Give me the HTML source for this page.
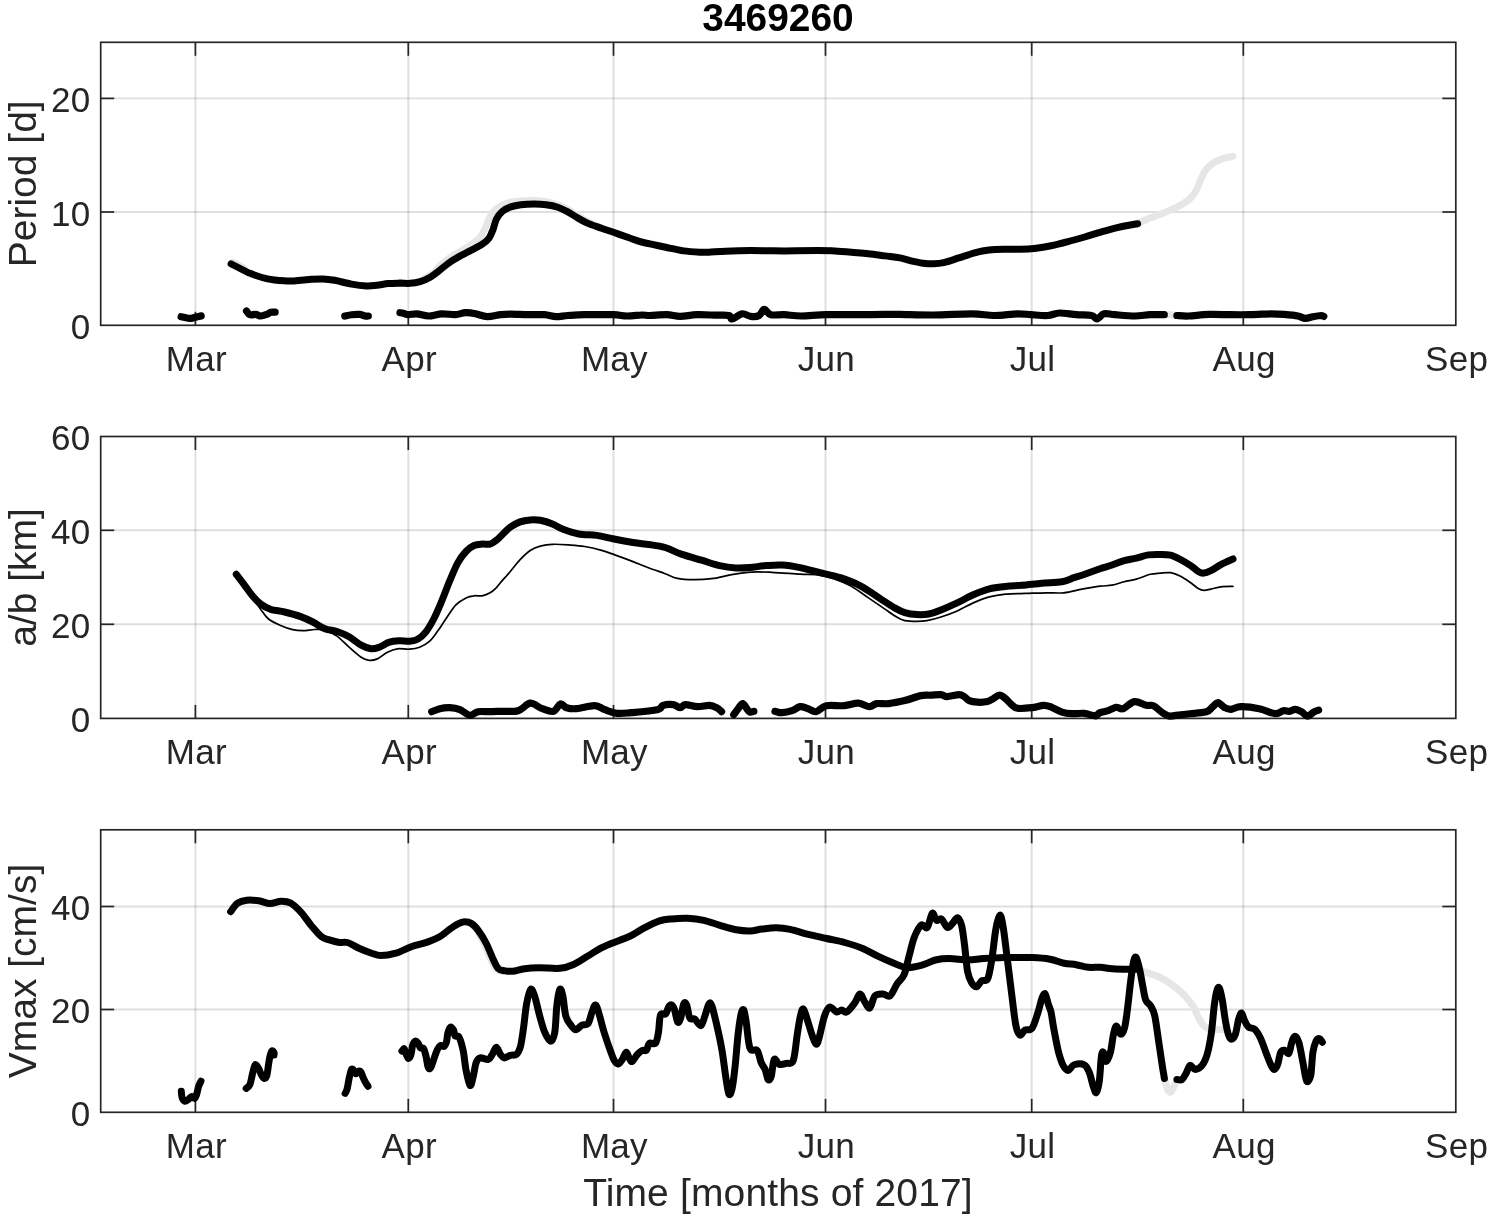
<!DOCTYPE html>
<html><head><meta charset="utf-8"><title>3469260</title>
<style>html,body{margin:0;padding:0;background:#fff}svg{display:block}text{font-family:"Liberation Sans",Arial,Helvetica,sans-serif}</style></head><body>
<svg width="1489" height="1217" viewBox="0 0 1489 1217">
<rect width="1489" height="1217" fill="#fff"/>
<g><line x1="195.4" y1="42.3" x2="195.4" y2="325.3" stroke="#262626" stroke-opacity="0.15" stroke-width="1.9"/><line x1="408.3" y1="42.3" x2="408.3" y2="325.3" stroke="#262626" stroke-opacity="0.15" stroke-width="1.9"/><line x1="613.5" y1="42.3" x2="613.5" y2="325.3" stroke="#262626" stroke-opacity="0.15" stroke-width="1.9"/><line x1="825.5" y1="42.3" x2="825.5" y2="325.3" stroke="#262626" stroke-opacity="0.15" stroke-width="1.9"/><line x1="1031.7" y1="42.3" x2="1031.7" y2="325.3" stroke="#262626" stroke-opacity="0.15" stroke-width="1.9"/><line x1="1243.3" y1="42.3" x2="1243.3" y2="325.3" stroke="#262626" stroke-opacity="0.15" stroke-width="1.9"/><line x1="100.7" y1="212.0" x2="1455.8" y2="212.0" stroke="#262626" stroke-opacity="0.15" stroke-width="1.9"/><line x1="100.7" y1="98.4" x2="1455.8" y2="98.4" stroke="#262626" stroke-opacity="0.15" stroke-width="1.9"/></g>
<g><line x1="195.4" y1="325.3" x2="195.4" y2="311.8" stroke="#262626" stroke-width="1.7"/><line x1="195.4" y1="42.3" x2="195.4" y2="55.8" stroke="#262626" stroke-width="1.7"/><line x1="408.3" y1="325.3" x2="408.3" y2="311.8" stroke="#262626" stroke-width="1.7"/><line x1="408.3" y1="42.3" x2="408.3" y2="55.8" stroke="#262626" stroke-width="1.7"/><line x1="613.5" y1="325.3" x2="613.5" y2="311.8" stroke="#262626" stroke-width="1.7"/><line x1="613.5" y1="42.3" x2="613.5" y2="55.8" stroke="#262626" stroke-width="1.7"/><line x1="825.5" y1="325.3" x2="825.5" y2="311.8" stroke="#262626" stroke-width="1.7"/><line x1="825.5" y1="42.3" x2="825.5" y2="55.8" stroke="#262626" stroke-width="1.7"/><line x1="1031.7" y1="325.3" x2="1031.7" y2="311.8" stroke="#262626" stroke-width="1.7"/><line x1="1031.7" y1="42.3" x2="1031.7" y2="55.8" stroke="#262626" stroke-width="1.7"/><line x1="1243.3" y1="325.3" x2="1243.3" y2="311.8" stroke="#262626" stroke-width="1.7"/><line x1="1243.3" y1="42.3" x2="1243.3" y2="55.8" stroke="#262626" stroke-width="1.7"/><line x1="100.7" y1="212.0" x2="114.2" y2="212.0" stroke="#262626" stroke-width="1.7"/><line x1="1455.8" y1="212.0" x2="1442.3" y2="212.0" stroke="#262626" stroke-width="1.7"/><line x1="100.7" y1="98.4" x2="114.2" y2="98.4" stroke="#262626" stroke-width="1.7"/><line x1="1455.8" y1="98.4" x2="1442.3" y2="98.4" stroke="#262626" stroke-width="1.7"/><rect x="100.7" y="42.3" width="1355.1" height="283.0" fill="none" stroke="#262626" stroke-width="1.7"/></g>
<g><path d="M233.1,262.1 L244.0,268.0" fill="none" stroke="#e6e6e6" stroke-width="7.0" stroke-linecap="round" stroke-linejoin="round"/><path d="M423.5,279.4 C425.2,278.3 430.8,275.1 433.6,272.7 C436.4,270.3 437.5,267.8 440.3,265.2 C443.1,262.6 447.0,259.6 450.4,257.3 C453.8,255.0 456.8,253.4 460.4,251.2 C464.0,249.0 468.8,246.6 472.2,244.2 C475.6,241.8 478.4,239.4 480.6,236.6 C482.8,233.8 483.9,230.9 485.6,227.4 C487.3,223.9 488.7,218.8 490.7,215.6 C492.7,212.4 494.6,210.2 497.4,208.1 C500.2,206.0 503.6,204.2 507.5,203.0 C511.4,201.8 516.4,201.3 520.9,200.9 C525.4,200.5 529.8,200.3 534.3,200.5 C538.8,200.7 543.6,201.1 547.8,201.9 C552.0,202.8 555.9,204.2 559.5,205.6 C563.1,207.0 566.2,208.6 569.6,210.6 C573.0,212.6 576.4,215.3 579.7,217.3 C583.1,219.3 586.1,220.9 589.7,222.7 C593.3,224.5 599.5,227.0 601.5,227.9" fill="none" stroke="#e6e6e6" stroke-width="7.0" stroke-linecap="round" stroke-linejoin="round"/><path d="M1118.3,227.4 C1121.5,226.7 1132.3,224.8 1137.6,223.2 C1142.9,221.6 1145.7,219.8 1150.0,218.1 C1154.3,216.4 1158.9,214.9 1163.4,213.1 C1167.9,211.3 1172.7,209.4 1176.9,207.2 C1181.1,205.0 1185.5,202.2 1188.6,199.7 C1191.7,197.2 1193.3,195.3 1195.3,192.1 C1197.3,188.9 1198.7,184.0 1200.4,180.4 C1202.1,176.8 1203.2,173.2 1205.4,170.3 C1207.6,167.4 1210.7,164.7 1213.8,162.7 C1216.9,160.7 1220.7,159.2 1223.9,158.2 C1227.1,157.1 1231.3,156.7 1232.8,156.4" fill="none" stroke="#e6e6e6" stroke-width="7.0" stroke-linecap="round" stroke-linejoin="round"/><path d="M1164.3,314.7 C1165.3,314.7 1168.0,314.6 1170.1,314.7 C1172.2,314.8 1175.8,315.4 1176.9,315.5" fill="none" stroke="#e6e6e6" stroke-width="7.0" stroke-linecap="round" stroke-linejoin="round"/><path d="M231.1,263.8 C234.4,265.4 244.6,271.1 250.7,273.6 C256.8,276.1 261.9,277.6 267.5,278.8 C273.1,280.0 280.1,280.5 284.3,280.8 C288.5,281.1 288.5,281.1 292.7,280.9 C296.9,280.7 304.5,279.7 309.5,279.4 C314.5,279.1 318.7,278.8 322.9,278.9 C327.1,279.0 329.9,279.4 334.7,280.3 C339.5,281.2 346.2,283.2 351.5,284.1 C356.8,285.1 362.4,285.8 366.6,286.0 C370.8,286.2 373.1,285.7 376.7,285.3 C380.3,284.9 384.5,284.0 388.4,283.6 C392.3,283.2 396.4,283.2 400.0,283.1 C403.6,283.1 406.8,283.6 410.1,283.3 C413.5,283.1 416.8,282.6 420.1,281.6 C423.5,280.6 426.8,279.2 430.2,277.2 C433.6,275.2 436.9,272.3 440.3,269.7 C443.7,267.1 447.0,264.1 450.4,261.8 C453.8,259.5 456.8,257.9 460.4,255.9 C464.0,253.9 468.5,251.6 472.2,249.7 C475.9,247.8 479.5,246.1 482.3,244.2 C485.1,242.3 487.2,240.8 489.0,238.3 C490.8,235.8 491.9,232.3 493.2,229.1 C494.4,225.9 495.0,221.9 496.5,219.0 C498.0,216.1 500.0,213.4 502.4,211.4 C504.8,209.4 507.7,208.0 510.8,206.9 C513.9,205.8 517.0,205.2 520.9,204.7 C524.8,204.2 530.1,204.0 534.3,204.0 C538.5,204.0 542.2,204.2 546.1,204.7 C550.0,205.2 554.2,206.0 557.8,207.2 C561.4,208.4 564.5,210.0 567.9,211.8 C571.3,213.6 574.6,216.2 578.0,218.1 C581.4,220.0 584.1,221.7 588.0,223.4 C591.9,225.1 597.0,226.6 601.5,228.2 C606.0,229.8 610.4,231.2 614.9,232.8 C619.4,234.4 624.1,236.0 628.3,237.5 C632.5,239.0 636.5,240.6 640.1,241.7 C643.7,242.8 645.5,242.8 650.0,243.8 C654.5,244.8 661.2,246.3 666.8,247.5 C672.4,248.7 678.0,250.1 683.6,250.9 C689.2,251.7 696.2,252.0 700.4,252.2 C704.6,252.4 704.6,252.4 708.8,252.2 C713.0,252.0 718.6,251.5 725.6,251.2 C732.6,250.9 740.9,250.6 750.7,250.6 C760.5,250.6 773.1,250.9 784.3,250.9 C795.5,250.9 809.5,250.6 817.9,250.6 C826.3,250.6 829.1,250.6 834.7,250.9 C840.3,251.2 845.9,251.7 851.5,252.2 C857.1,252.7 862.7,253.1 868.3,253.7 C873.9,254.3 879.8,255.2 885.1,255.9 C890.4,256.6 895.3,257.0 900.0,257.9 C904.7,258.8 909.2,260.4 913.4,261.3 C917.6,262.2 921.8,263.1 925.2,263.5 C928.6,263.9 930.5,263.9 933.6,263.8 C936.7,263.7 939.5,263.6 943.7,262.6 C947.9,261.6 953.5,259.6 958.8,257.9 C964.1,256.2 970.6,253.9 975.6,252.6 C980.6,251.3 984.2,250.6 989.0,250.0 C993.8,249.4 998.8,249.3 1004.1,249.2 C1009.4,249.1 1015.9,249.3 1020.9,249.2 C1025.9,249.1 1029.3,249.0 1034.3,248.4 C1039.3,247.8 1045.5,246.9 1051.1,245.8 C1056.7,244.7 1062.3,243.2 1067.9,241.7 C1073.5,240.2 1079.1,238.6 1084.7,237.0 C1090.3,235.4 1095.9,233.5 1101.5,231.9 C1107.1,230.3 1112.3,228.8 1118.3,227.4 C1124.3,226.0 1134.4,224.3 1137.6,223.7" fill="none" stroke="#000" stroke-width="7.0" stroke-linecap="round" stroke-linejoin="round"/><path d="M181.1,316.7 C182.5,317.0 187.1,318.3 189.5,318.4 C191.9,318.5 193.4,317.6 195.3,317.2 C197.2,316.8 200.2,316.1 201.2,315.9" fill="none" stroke="#000" stroke-width="7.2" stroke-linecap="round" stroke-linejoin="round"/><path d="M246.5,311.0 C247.1,311.6 248.3,314.1 249.9,314.7 C251.5,315.3 254.0,314.2 255.8,314.4 C257.6,314.6 258.9,316.0 260.8,316.0 C262.8,316.0 265.8,314.8 267.5,314.2 C269.2,313.6 269.6,312.5 270.9,312.2 C272.2,311.9 274.4,312.2 275.1,312.2" fill="none" stroke="#000" stroke-width="7.2" stroke-linecap="round" stroke-linejoin="round"/><path d="M344.8,316.0 C345.9,315.8 349.0,315.0 351.5,314.7 C354.0,314.4 357.7,314.2 359.9,314.4 C362.1,314.6 363.5,315.7 364.9,316.0 C366.3,316.3 367.7,316.0 368.3,316.0" fill="none" stroke="#000" stroke-width="7.2" stroke-linecap="round" stroke-linejoin="round"/><path d="M400.0,312.7 C400.6,312.8 402.0,313.0 403.4,313.3 C404.8,313.6 406.2,314.6 408.4,314.7 C410.6,314.8 413.4,313.6 416.8,313.8 C420.2,314.0 424.3,316.0 428.5,316.0 C432.7,316.0 437.5,314.0 442.0,313.8 C446.5,313.6 451.5,314.9 455.4,314.7 C459.3,314.5 462.1,312.8 465.5,312.7 C468.9,312.6 472.0,313.1 475.6,313.8 C479.2,314.5 483.1,316.6 487.3,316.7 C491.5,316.8 496.8,315.1 500.7,314.7 C504.6,314.3 506.3,314.2 510.8,314.2 C515.3,314.2 522.0,314.6 527.6,314.7 C533.2,314.8 539.6,314.4 544.4,314.7 C549.1,315.0 552.2,316.6 556.1,316.7 C560.0,316.8 563.1,315.8 567.9,315.5 C572.7,315.2 577.2,314.8 584.7,314.7 C592.2,314.6 606.2,314.5 613.2,314.7 C620.2,314.9 621.9,315.9 626.7,316.0 C631.5,316.1 637.9,315.1 641.8,315.0 C645.7,314.9 645.8,315.6 650.0,315.5 C654.2,315.4 661.8,314.6 666.8,314.7 C671.8,314.8 675.2,316.4 680.2,316.4 C685.2,316.4 690.8,314.9 697.0,314.7 C703.2,314.5 711.9,315.1 717.2,315.2 C722.5,315.3 726.4,314.9 728.9,315.5 C731.4,316.1 730.1,319.2 732.3,318.9 C734.5,318.6 739.2,314.2 742.3,313.8 C745.4,313.4 747.9,316.1 750.7,316.4 C753.5,316.7 756.9,316.7 759.1,315.5 C761.4,314.3 762.2,309.4 764.2,309.3 C766.2,309.2 767.5,313.8 770.9,314.7 C774.2,315.6 779.3,314.5 784.3,314.7 C789.3,314.9 794.1,316.0 801.1,316.0 C808.1,316.0 816.5,314.9 826.3,314.7 C836.1,314.5 850.1,314.8 859.9,314.7 C869.7,314.6 878.4,314.4 885.1,314.4 C891.8,314.3 891.9,314.3 900.0,314.4 C908.1,314.5 921.6,315.1 933.6,315.0 C945.6,314.9 962.1,313.7 972.2,313.8 C982.3,313.9 986.5,315.5 994.0,315.5 C1001.5,315.5 1011.3,313.9 1017.5,313.8 C1023.7,313.7 1026.0,314.4 1031.0,314.7 C1036.0,315.0 1043.0,315.8 1047.8,315.5 C1052.5,315.2 1054.8,313.1 1059.5,313.0 C1064.2,312.9 1071.0,314.3 1076.3,314.7 C1081.6,315.1 1087.9,314.8 1091.4,315.5 C1094.9,316.2 1095.2,319.2 1097.3,318.9 C1099.4,318.6 1101.1,314.5 1104.0,313.8 C1106.9,313.1 1109.7,314.3 1114.9,314.7 C1120.1,315.1 1129.2,316.0 1135.1,316.0 C1140.9,316.0 1145.1,314.9 1150.0,314.7 C1154.9,314.5 1161.9,314.7 1164.3,314.7" fill="none" stroke="#000" stroke-width="7.2" stroke-linecap="round" stroke-linejoin="round"/><path d="M1176.9,315.5 C1178.9,315.6 1183.3,316.2 1188.6,316.0 C1193.9,315.8 1201.8,314.6 1208.8,314.4 C1215.8,314.2 1223.6,314.6 1230.6,314.7 C1237.6,314.8 1244.0,314.8 1250.7,314.7 C1257.4,314.6 1265.3,313.9 1270.9,313.8 C1276.5,313.8 1279.8,314.0 1284.3,314.4 C1288.8,314.8 1294.3,315.3 1297.8,316.0 C1301.3,316.7 1302.8,318.3 1305.3,318.4 C1307.8,318.5 1310.2,317.2 1312.9,316.7 C1315.6,316.2 1319.5,315.6 1321.3,315.5 C1323.1,315.4 1323.4,316.2 1323.8,316.4" fill="none" stroke="#000" stroke-width="7.2" stroke-linecap="round" stroke-linejoin="round"/></g>
<g><text x="196.3" y="371.0" font-size="35" letter-spacing="0.3" fill="#262626" text-anchor="middle">Mar</text><text x="409.2" y="371.0" font-size="35" letter-spacing="0.3" fill="#262626" text-anchor="middle">Apr</text><text x="614.4" y="371.0" font-size="35" letter-spacing="0.3" fill="#262626" text-anchor="middle">May</text><text x="826.4" y="371.0" font-size="35" letter-spacing="0.3" fill="#262626" text-anchor="middle">Jun</text><text x="1032.6" y="371.0" font-size="35" letter-spacing="0.3" fill="#262626" text-anchor="middle">Jul</text><text x="1244.2" y="371.0" font-size="35" letter-spacing="0.3" fill="#262626" text-anchor="middle">Aug</text><text x="1456.7" y="371.0" font-size="35" letter-spacing="0.3" fill="#262626" text-anchor="middle">Sep</text><text x="90.6" y="339.2" font-size="35" letter-spacing="0.3" fill="#262626" text-anchor="end">0</text><text x="90.6" y="225.9" font-size="35" letter-spacing="0.3" fill="#262626" text-anchor="end">10</text><text x="90.6" y="112.3" font-size="35" letter-spacing="0.3" fill="#262626" text-anchor="end">20</text><text transform="translate(35.6,183.8) rotate(-90)" font-size="39" fill="#262626" text-anchor="middle">Period [d]</text></g>
<g><line x1="195.4" y1="436.5" x2="195.4" y2="718.4" stroke="#262626" stroke-opacity="0.15" stroke-width="1.9"/><line x1="408.3" y1="436.5" x2="408.3" y2="718.4" stroke="#262626" stroke-opacity="0.15" stroke-width="1.9"/><line x1="613.5" y1="436.5" x2="613.5" y2="718.4" stroke="#262626" stroke-opacity="0.15" stroke-width="1.9"/><line x1="825.5" y1="436.5" x2="825.5" y2="718.4" stroke="#262626" stroke-opacity="0.15" stroke-width="1.9"/><line x1="1031.7" y1="436.5" x2="1031.7" y2="718.4" stroke="#262626" stroke-opacity="0.15" stroke-width="1.9"/><line x1="1243.3" y1="436.5" x2="1243.3" y2="718.4" stroke="#262626" stroke-opacity="0.15" stroke-width="1.9"/><line x1="100.7" y1="624.3" x2="1455.8" y2="624.3" stroke="#262626" stroke-opacity="0.15" stroke-width="1.9"/><line x1="100.7" y1="530.3" x2="1455.8" y2="530.3" stroke="#262626" stroke-opacity="0.15" stroke-width="1.9"/></g>
<g><line x1="195.4" y1="718.4" x2="195.4" y2="704.9" stroke="#262626" stroke-width="1.7"/><line x1="195.4" y1="436.5" x2="195.4" y2="450.0" stroke="#262626" stroke-width="1.7"/><line x1="408.3" y1="718.4" x2="408.3" y2="704.9" stroke="#262626" stroke-width="1.7"/><line x1="408.3" y1="436.5" x2="408.3" y2="450.0" stroke="#262626" stroke-width="1.7"/><line x1="613.5" y1="718.4" x2="613.5" y2="704.9" stroke="#262626" stroke-width="1.7"/><line x1="613.5" y1="436.5" x2="613.5" y2="450.0" stroke="#262626" stroke-width="1.7"/><line x1="825.5" y1="718.4" x2="825.5" y2="704.9" stroke="#262626" stroke-width="1.7"/><line x1="825.5" y1="436.5" x2="825.5" y2="450.0" stroke="#262626" stroke-width="1.7"/><line x1="1031.7" y1="718.4" x2="1031.7" y2="704.9" stroke="#262626" stroke-width="1.7"/><line x1="1031.7" y1="436.5" x2="1031.7" y2="450.0" stroke="#262626" stroke-width="1.7"/><line x1="1243.3" y1="718.4" x2="1243.3" y2="704.9" stroke="#262626" stroke-width="1.7"/><line x1="1243.3" y1="436.5" x2="1243.3" y2="450.0" stroke="#262626" stroke-width="1.7"/><line x1="100.7" y1="624.3" x2="114.2" y2="624.3" stroke="#262626" stroke-width="1.7"/><line x1="1455.8" y1="624.3" x2="1442.3" y2="624.3" stroke="#262626" stroke-width="1.7"/><line x1="100.7" y1="530.3" x2="114.2" y2="530.3" stroke="#262626" stroke-width="1.7"/><line x1="1455.8" y1="530.3" x2="1442.3" y2="530.3" stroke="#262626" stroke-width="1.7"/><rect x="100.7" y="436.5" width="1355.1" height="281.9" fill="none" stroke="#262626" stroke-width="1.7"/></g>
<g><path d="M236.3,574.3 C237.6,576.0 241.6,581.0 244.3,584.8 C247.0,588.6 249.7,592.9 252.4,596.9 C255.1,600.9 257.7,605.2 260.4,608.9 C263.1,612.6 265.1,616.2 268.5,619.0 C271.9,621.8 276.6,623.7 280.6,625.5 C284.6,627.3 289.0,628.8 292.7,629.7 C296.4,630.6 299.1,630.7 302.8,630.7 C306.5,630.7 311.1,629.6 314.8,629.5 C318.5,629.4 321.2,629.0 324.9,630.1 C328.6,631.2 333.0,633.2 337.0,636.1 C341.0,639.0 345.1,643.7 349.1,647.2 C353.1,650.7 357.9,655.1 361.2,657.3 C364.5,659.5 366.5,660.0 369.2,660.3 C371.9,660.6 374.3,660.2 377.3,658.9 C380.3,657.6 384.0,654.0 387.4,652.3 C390.8,650.6 393.7,649.3 397.4,648.8 C401.1,648.3 405.8,649.5 409.5,649.2 C413.2,648.9 416.2,648.5 419.6,647.2 C423.0,645.9 426.7,643.9 429.7,641.2 C432.7,638.5 435.0,634.8 437.7,631.1 C440.4,627.4 442.8,623.4 445.8,619.0 C448.8,614.6 452.5,608.4 455.9,604.9 C459.3,601.4 463.0,599.4 466.0,597.9 C469.0,596.4 471.3,596.1 474.0,595.8 C476.7,595.4 479.4,596.3 482.1,595.8 C484.8,595.3 487.8,594.1 490.1,592.8 C492.5,591.5 494.6,589.4 496.2,587.8 C497.8,586.2 497.7,585.9 500.0,583.2 C502.3,580.5 506.8,575.6 510.1,571.7 C513.5,567.8 516.8,563.1 520.1,559.6 C523.5,556.1 526.8,552.8 530.2,550.5 C533.6,548.2 536.6,547.1 540.3,546.1 C544.0,545.1 547.7,544.5 552.4,544.3 C557.1,544.1 563.1,544.5 568.5,544.9 C573.9,545.3 579.2,545.6 584.6,546.5 C590.0,547.4 595.7,548.7 600.7,550.1 C605.7,551.5 609.4,553.0 614.8,554.9 C620.2,556.8 627.3,559.4 633.0,561.6 C638.7,563.8 643.7,566.0 649.1,568.0 C654.5,570.0 660.5,572.0 665.2,573.7 C669.9,575.4 672.6,577.3 677.3,578.3 C682.0,579.3 687.7,579.6 693.4,579.7 C699.1,579.8 705.2,579.5 711.6,578.7 C718.0,577.9 725.0,575.8 731.7,574.7 C738.4,573.6 745.1,572.5 751.8,572.1 C758.5,571.7 764.0,572.0 772.0,572.3 C780.0,572.6 792.6,573.7 800.0,574.1 C807.4,574.5 810.7,574.0 816.1,574.7 C821.5,575.4 826.5,576.2 832.2,578.1 C837.9,580.0 844.4,582.5 850.4,585.8 C856.4,589.1 862.8,594.0 868.5,597.9 C874.2,601.8 879.9,605.7 884.6,608.9 C889.3,612.1 893.3,615.0 896.7,617.0 C900.1,619.0 901.4,619.9 904.8,620.6 C908.2,621.3 913.2,621.4 916.9,621.4 C920.6,621.4 922.9,621.3 926.9,620.6 C930.9,619.9 936.0,618.6 941.0,617.0 C946.0,615.4 951.8,613.4 957.2,611.0 C962.6,608.6 967.9,605.2 973.3,602.9 C978.7,600.5 984.0,598.3 989.4,596.9 C994.8,595.5 999.5,594.8 1005.5,594.2 C1011.5,593.6 1019.0,593.6 1025.7,593.4 C1032.4,593.2 1039.4,592.9 1045.8,592.8 C1052.2,592.7 1057.9,593.4 1063.9,592.8 C1070.0,592.2 1076.1,590.3 1082.1,589.2 C1088.1,588.1 1095.0,586.9 1100.0,586.2 C1105.0,585.5 1108.1,586.0 1112.1,585.2 C1116.1,584.5 1120.2,582.7 1124.2,581.7 C1128.2,580.7 1131.9,580.3 1136.3,579.1 C1140.7,577.9 1146.4,575.3 1150.4,574.3 C1154.4,573.3 1157.1,573.4 1160.4,573.1 C1163.8,572.8 1167.1,572.2 1170.5,572.7 C1173.9,573.2 1177.2,574.6 1180.6,576.3 C1184.0,578.0 1187.7,580.7 1190.7,582.8 C1193.7,584.9 1196.5,587.5 1198.7,588.8 C1200.9,590.1 1201.8,590.3 1203.8,590.4 C1205.8,590.5 1207.9,589.8 1210.8,589.2 C1213.7,588.6 1217.2,587.3 1220.9,586.8 C1224.6,586.3 1231.0,586.5 1233.0,586.4" fill="none" stroke="#000" stroke-width="1.7" stroke-linecap="round" stroke-linejoin="round"/><path d="M236.3,574.3 C237.6,576.0 241.6,581.2 244.3,584.8 C247.0,588.4 249.7,592.6 252.4,595.8 C255.1,599.0 257.4,601.6 260.4,603.9 C263.4,606.1 266.5,607.9 270.5,609.3 C274.5,610.6 279.6,610.8 284.6,612.0 C289.6,613.2 296.0,614.9 300.7,616.6 C305.4,618.3 308.8,620.0 312.8,622.0 C316.8,624.0 320.9,627.1 324.9,628.7 C328.9,630.3 333.0,630.2 337.0,631.5 C341.0,632.8 345.1,634.4 349.1,636.7 C353.1,639.0 357.5,643.2 361.2,645.2 C364.9,647.2 368.3,648.5 371.3,648.8 C374.3,649.1 376.3,648.3 379.3,647.2 C382.3,646.1 386.0,643.3 389.4,642.2 C392.8,641.1 396.1,641.0 399.5,640.8 C402.9,640.6 406.5,641.5 409.5,641.2 C412.5,640.9 414.9,640.7 417.6,639.2 C420.3,637.7 423.0,635.5 425.7,632.1 C428.4,628.7 431.0,624.2 433.7,619.0 C436.4,613.8 439.1,607.3 441.8,600.9 C444.5,594.5 447.1,587.1 449.8,580.7 C452.5,574.3 455.2,567.5 457.9,562.6 C460.6,557.7 463.3,554.4 466.0,551.5 C468.7,548.6 471.3,546.7 474.0,545.5 C476.7,544.3 479.4,544.3 482.1,544.1 C484.8,543.9 487.8,544.7 490.1,544.1 C492.5,543.5 494.6,541.6 496.2,540.4 C497.8,539.2 497.7,539.2 500.0,537.0 C502.3,534.8 506.8,529.8 510.1,527.3 C513.5,524.8 516.8,523.1 520.1,521.9 C523.5,520.7 526.8,520.2 530.2,519.9 C533.6,519.6 536.6,519.6 540.3,520.3 C544.0,521.0 548.7,522.4 552.4,523.9 C556.1,525.4 558.1,527.3 562.5,529.0 C566.9,530.7 572.9,532.9 578.6,534.0 C584.3,535.1 591.0,534.6 596.7,535.4 C602.4,536.2 606.8,537.6 612.8,538.8 C618.8,540.0 627.0,541.5 633.0,542.5 C639.0,543.5 643.7,543.7 649.1,544.5 C654.5,545.3 659.8,545.9 665.2,547.5 C670.6,549.1 675.2,552.0 681.3,554.1 C687.3,556.2 695.1,558.3 701.5,560.2 C707.9,562.1 713.9,564.3 719.6,565.6 C725.3,566.9 730.7,567.7 735.7,568.0 C740.7,568.3 744.8,568.0 749.8,567.6 C754.8,567.2 760.6,566.0 766.0,565.6 C771.4,565.2 776.4,564.7 782.1,565.0 C787.8,565.3 793.7,566.3 800.0,567.6 C806.3,568.9 813.4,571.0 820.1,572.7 C826.8,574.4 833.6,575.5 840.3,577.7 C847.0,579.9 853.7,582.3 860.4,585.8 C867.1,589.3 874.9,595.2 880.6,598.9 C886.3,602.6 890.7,605.6 894.7,607.9 C898.7,610.2 901.1,611.5 904.8,612.6 C908.5,613.7 912.9,614.4 916.9,614.6 C920.9,614.8 924.9,614.8 928.9,614.0 C932.9,613.2 936.3,611.9 941.0,610.0 C945.7,608.1 951.8,605.4 957.2,602.9 C962.6,600.4 967.9,597.1 973.3,594.8 C978.7,592.4 984.0,590.2 989.4,588.8 C994.8,587.4 1000.1,587.0 1005.5,586.4 C1010.9,585.8 1015.6,585.7 1021.6,585.2 C1027.7,584.7 1035.1,583.8 1041.8,583.2 C1048.5,582.6 1056.5,582.6 1061.9,581.7 C1067.3,580.8 1070.0,579.0 1074.0,577.7 C1078.0,576.4 1081.8,575.2 1086.1,573.7 C1090.4,572.2 1095.7,570.2 1100.0,568.7 C1104.3,567.2 1108.1,566.4 1112.1,565.0 C1116.1,563.6 1120.2,561.7 1124.2,560.6 C1128.2,559.5 1132.3,559.2 1136.3,558.2 C1140.3,557.2 1144.4,555.5 1148.4,554.9 C1152.4,554.3 1156.7,554.5 1160.4,554.5 C1164.1,554.5 1167.1,554.4 1170.5,555.2 C1173.9,556.1 1177.2,557.9 1180.6,559.6 C1184.0,561.3 1187.7,563.6 1190.7,565.6 C1193.7,567.6 1196.5,570.5 1198.7,571.7 C1200.9,573.0 1201.8,573.3 1203.8,573.1 C1205.8,572.9 1207.9,572.1 1210.8,570.7 C1213.7,569.3 1217.2,566.6 1220.9,564.6 C1224.6,562.6 1231.0,559.9 1233.0,559.0" fill="none" stroke="#000" stroke-width="7.0" stroke-linecap="round" stroke-linejoin="round"/><path d="M431.7,711.7 C433.1,711.2 436.8,709.4 439.8,708.7 C442.8,708.0 446.5,707.5 449.8,707.7 C453.1,707.9 456.5,708.4 459.9,709.7 C463.3,711.0 467.0,715.0 470.0,715.3 C473.0,715.6 474.6,712.3 478.0,711.7 C481.4,711.1 486.4,711.8 490.1,711.7 C493.8,711.6 495.3,711.5 500.0,711.3 C504.7,711.1 513.1,712.1 518.1,710.7 C523.1,709.4 526.2,703.5 530.2,703.2 C534.2,702.9 538.4,707.4 542.3,708.7 C546.2,710.1 550.4,712.1 553.4,711.3 C556.4,710.5 558.2,704.6 560.4,704.0 C562.6,703.4 563.8,706.9 566.5,707.7 C569.2,708.5 571.9,709.0 576.6,708.7 C581.3,708.4 590.0,705.5 594.7,705.7 C599.4,705.9 601.1,708.4 604.8,709.7 C608.5,711.0 612.5,712.8 616.9,713.3 C621.3,713.8 624.3,713.3 631.0,712.7 C637.7,712.1 651.8,710.9 657.2,709.7 C662.6,708.5 660.5,706.1 663.2,705.3 C665.9,704.4 670.4,704.2 673.3,704.6 C676.1,705.0 678.3,707.7 680.3,707.7 C682.3,707.7 682.5,704.8 685.4,704.6 C688.2,704.4 693.4,706.6 697.4,706.7 C701.4,706.8 706.3,705.1 709.5,705.3 C712.7,705.5 714.6,706.6 716.6,707.7 C718.6,708.8 720.8,711.0 721.6,711.7" fill="none" stroke="#000" stroke-width="7.2" stroke-linecap="round" stroke-linejoin="round"/><path d="M733.7,714.7 C734.6,713.5 737.3,709.6 738.8,707.7 C740.3,705.9 741.5,703.4 742.8,703.6 C744.1,703.8 745.6,707.3 746.8,708.7 C748.0,710.1 748.6,711.7 749.8,712.1 C751.0,712.5 753.2,711.4 753.9,711.3" fill="none" stroke="#000" stroke-width="7.2" stroke-linecap="round" stroke-linejoin="round"/><path d="M775.0,711.3 C776.2,711.5 779.2,712.8 782.1,712.7 C785.0,712.6 789.1,711.7 792.1,710.7 C795.1,709.7 797.3,707.0 800.0,706.7 C802.7,706.4 805.4,707.9 808.1,708.7 C810.8,709.5 813.1,712.2 816.1,711.7 C819.1,711.2 821.5,706.7 826.2,705.7 C830.9,704.7 838.9,706.1 844.3,705.7 C849.7,705.3 854.2,703.0 858.4,703.2 C862.6,703.4 866.5,706.6 869.5,706.7 C872.5,706.8 873.4,704.1 876.6,703.6 C879.8,703.1 884.0,704.1 888.7,703.6 C893.4,703.1 899.4,701.9 904.8,700.6 C910.2,699.3 916.5,696.5 920.9,695.6 C925.3,694.7 927.6,695.4 931.0,695.2 C934.4,695.0 938.3,694.4 941.0,694.6 C943.7,694.8 944.1,696.6 947.1,696.6 C950.1,696.6 956.4,694.6 959.2,694.6 C962.1,694.6 962.5,695.6 964.2,696.6 C965.9,697.6 967.0,699.7 969.2,700.6 C971.4,701.5 974.3,702.0 977.3,702.2 C980.3,702.4 984.7,702.2 987.4,701.6 C990.1,701.0 991.4,699.7 993.4,698.6 C995.4,697.5 997.5,695.2 999.5,695.2 C1001.5,695.2 1003.5,697.0 1005.5,698.6 C1007.5,700.2 1009.6,703.0 1011.6,704.6 C1013.6,706.2 1014.2,707.8 1017.6,708.3 C1021.0,708.8 1027.3,708.2 1031.7,707.7 C1036.1,707.2 1040.5,705.4 1043.8,705.3 C1047.1,705.2 1048.8,706.2 1051.8,707.3 C1054.8,708.4 1058.5,711.0 1061.9,712.1 C1065.3,713.2 1068.3,713.5 1072.0,713.7 C1075.7,713.9 1080.8,713.0 1084.1,713.3 C1087.4,713.6 1090.1,714.9 1092.1,715.3 C1094.1,715.7 1094.9,716.1 1096.2,715.7 C1097.5,715.3 1098.0,713.5 1100.0,712.7 C1102.0,711.9 1105.4,711.6 1108.1,710.7 C1110.8,709.8 1113.6,707.6 1116.1,707.3 C1118.6,707.0 1120.2,709.7 1123.2,708.7 C1126.2,707.8 1130.5,702.2 1134.3,701.6 C1138.1,701.0 1143.1,704.6 1146.3,705.3 C1149.5,706.0 1150.7,704.5 1153.4,705.7 C1156.1,706.9 1159.8,711.0 1162.5,712.7 C1165.2,714.4 1166.5,715.8 1169.5,716.1 C1172.5,716.4 1176.4,715.2 1180.6,714.7 C1184.8,714.2 1190.3,713.8 1194.7,713.3 C1199.1,712.8 1203.8,712.8 1206.8,711.7 C1209.8,710.6 1210.9,708.2 1212.8,706.7 C1214.7,705.2 1215.9,702.4 1217.9,702.6 C1219.9,702.8 1222.7,706.6 1224.9,707.7 C1227.1,708.8 1228.3,709.5 1231.0,709.3 C1233.7,709.1 1236.3,706.8 1241.0,706.7 C1245.7,706.6 1253.5,707.5 1259.2,708.7 C1264.9,709.9 1271.3,713.4 1275.3,713.7 C1279.3,714.0 1280.9,711.1 1283.3,710.7 C1285.7,710.3 1287.4,711.5 1289.4,711.3 C1291.4,711.1 1293.4,709.2 1295.4,709.3 C1297.4,709.4 1299.5,710.6 1301.5,711.7 C1303.5,712.8 1305.5,716.0 1307.5,716.1 C1309.5,716.2 1311.8,713.1 1313.6,712.1 C1315.4,711.1 1317.8,710.4 1318.6,710.1" fill="none" stroke="#000" stroke-width="7.2" stroke-linecap="round" stroke-linejoin="round"/></g>
<g><text x="196.3" y="764.1" font-size="35" letter-spacing="0.3" fill="#262626" text-anchor="middle">Mar</text><text x="409.2" y="764.1" font-size="35" letter-spacing="0.3" fill="#262626" text-anchor="middle">Apr</text><text x="614.4" y="764.1" font-size="35" letter-spacing="0.3" fill="#262626" text-anchor="middle">May</text><text x="826.4" y="764.1" font-size="35" letter-spacing="0.3" fill="#262626" text-anchor="middle">Jun</text><text x="1032.6" y="764.1" font-size="35" letter-spacing="0.3" fill="#262626" text-anchor="middle">Jul</text><text x="1244.2" y="764.1" font-size="35" letter-spacing="0.3" fill="#262626" text-anchor="middle">Aug</text><text x="1456.7" y="764.1" font-size="35" letter-spacing="0.3" fill="#262626" text-anchor="middle">Sep</text><text x="90.6" y="732.3" font-size="35" letter-spacing="0.3" fill="#262626" text-anchor="end">0</text><text x="90.6" y="638.2" font-size="35" letter-spacing="0.3" fill="#262626" text-anchor="end">20</text><text x="90.6" y="544.2" font-size="35" letter-spacing="0.3" fill="#262626" text-anchor="end">40</text><text x="90.6" y="450.4" font-size="35" letter-spacing="0.3" fill="#262626" text-anchor="end">60</text><text transform="translate(35.6,577.5) rotate(-90)" font-size="39" fill="#262626" text-anchor="middle">a/b [km]</text></g>
<g><line x1="195.4" y1="829.8" x2="195.4" y2="1112.3" stroke="#262626" stroke-opacity="0.15" stroke-width="1.9"/><line x1="408.3" y1="829.8" x2="408.3" y2="1112.3" stroke="#262626" stroke-opacity="0.15" stroke-width="1.9"/><line x1="613.5" y1="829.8" x2="613.5" y2="1112.3" stroke="#262626" stroke-opacity="0.15" stroke-width="1.9"/><line x1="825.5" y1="829.8" x2="825.5" y2="1112.3" stroke="#262626" stroke-opacity="0.15" stroke-width="1.9"/><line x1="1031.7" y1="829.8" x2="1031.7" y2="1112.3" stroke="#262626" stroke-opacity="0.15" stroke-width="1.9"/><line x1="1243.3" y1="829.8" x2="1243.3" y2="1112.3" stroke="#262626" stroke-opacity="0.15" stroke-width="1.9"/><line x1="100.7" y1="1009.5" x2="1455.8" y2="1009.5" stroke="#262626" stroke-opacity="0.15" stroke-width="1.9"/><line x1="100.7" y1="906.5" x2="1455.8" y2="906.5" stroke="#262626" stroke-opacity="0.15" stroke-width="1.9"/></g>
<g><line x1="195.4" y1="1112.3" x2="195.4" y2="1098.8" stroke="#262626" stroke-width="1.7"/><line x1="195.4" y1="829.8" x2="195.4" y2="843.3" stroke="#262626" stroke-width="1.7"/><line x1="408.3" y1="1112.3" x2="408.3" y2="1098.8" stroke="#262626" stroke-width="1.7"/><line x1="408.3" y1="829.8" x2="408.3" y2="843.3" stroke="#262626" stroke-width="1.7"/><line x1="613.5" y1="1112.3" x2="613.5" y2="1098.8" stroke="#262626" stroke-width="1.7"/><line x1="613.5" y1="829.8" x2="613.5" y2="843.3" stroke="#262626" stroke-width="1.7"/><line x1="825.5" y1="1112.3" x2="825.5" y2="1098.8" stroke="#262626" stroke-width="1.7"/><line x1="825.5" y1="829.8" x2="825.5" y2="843.3" stroke="#262626" stroke-width="1.7"/><line x1="1031.7" y1="1112.3" x2="1031.7" y2="1098.8" stroke="#262626" stroke-width="1.7"/><line x1="1031.7" y1="829.8" x2="1031.7" y2="843.3" stroke="#262626" stroke-width="1.7"/><line x1="1243.3" y1="1112.3" x2="1243.3" y2="1098.8" stroke="#262626" stroke-width="1.7"/><line x1="1243.3" y1="829.8" x2="1243.3" y2="843.3" stroke="#262626" stroke-width="1.7"/><line x1="100.7" y1="1009.5" x2="114.2" y2="1009.5" stroke="#262626" stroke-width="1.7"/><line x1="1455.8" y1="1009.5" x2="1442.3" y2="1009.5" stroke="#262626" stroke-width="1.7"/><line x1="100.7" y1="906.5" x2="114.2" y2="906.5" stroke="#262626" stroke-width="1.7"/><line x1="1455.8" y1="906.5" x2="1442.3" y2="906.5" stroke="#262626" stroke-width="1.7"/><rect x="100.7" y="829.8" width="1355.1" height="282.5" fill="none" stroke="#262626" stroke-width="1.7"/></g>
<g><path d="M1130.6,969.3 C1131.6,969.3 1133.9,968.7 1136.6,969.3 C1139.3,969.9 1143.0,971.5 1146.7,972.7 C1150.4,973.9 1154.8,974.9 1158.8,976.7 C1162.8,978.6 1166.9,980.9 1170.9,983.8 C1174.9,986.7 1179.3,990.2 1183.0,993.9 C1186.7,997.6 1190.3,1001.8 1193.0,1006.0 C1195.7,1010.2 1197.1,1015.6 1199.1,1019.1 C1201.1,1022.6 1202.8,1025.3 1205.1,1027.1 C1207.4,1028.9 1210.5,1029.3 1213.2,1029.7 C1215.9,1030.1 1220.0,1029.7 1221.3,1029.7" fill="none" stroke="#e6e6e6" stroke-width="7.0" stroke-linecap="round" stroke-linejoin="round"/><path d="M469.1,921.7 C470.2,922.9 473.4,925.2 475.8,928.6 C478.2,932.0 481.0,937.3 483.4,942.3 C485.8,947.3 488.3,954.0 490.3,958.4 C492.3,962.8 493.6,966.4 495.5,968.5 C497.4,970.6 500.9,970.8 502.0,971.3" fill="none" stroke="#e6e6e6" stroke-width="7.0" stroke-linecap="round" stroke-linejoin="round"/><path d="M1161.8,1062.4 C1162.2,1065.1 1163.5,1074.1 1164.4,1078.5 C1165.4,1082.9 1166.5,1086.7 1167.5,1089.0 C1168.5,1091.3 1169.5,1092.4 1170.5,1092.2 C1171.5,1092.0 1172.4,1089.5 1173.5,1087.6 C1174.6,1085.6 1175.7,1081.8 1176.9,1080.5 C1178.2,1079.2 1180.3,1079.7 1181.0,1079.5" fill="none" stroke="#e6e6e6" stroke-width="7.0" stroke-linecap="round" stroke-linejoin="round"/><path d="M230.6,911.7 C231.8,910.3 234.9,905.1 237.6,903.2 C240.3,901.3 243.2,900.6 246.7,900.2 C250.2,899.8 254.9,900.2 258.8,900.8 C262.7,901.4 266.2,903.5 269.9,903.6 C273.6,903.7 277.5,901.3 281.0,901.2 C284.5,901.1 287.6,901.4 291.0,903.2 C294.4,905.1 297.7,908.6 301.1,912.3 C304.5,916.0 307.8,921.4 311.2,925.4 C314.6,929.4 318.3,934.1 321.3,936.5 C324.3,938.9 326.3,938.9 329.3,939.9 C332.3,940.9 336.4,942.1 339.4,942.5 C342.4,942.9 344.0,941.5 347.4,942.5 C350.8,943.5 355.5,946.7 359.5,948.5 C363.5,950.3 368.1,952.0 371.6,953.2 C375.1,954.4 376.7,955.6 380.7,955.6 C384.7,955.6 390.6,954.7 395.8,953.2 C401.0,951.7 406.5,948.4 411.9,946.5 C417.3,944.6 423.3,943.6 428.0,941.9 C432.7,940.2 436.4,938.6 440.1,936.5 C443.8,934.4 447.2,931.0 450.0,929.0 C452.8,927.0 454.9,925.6 457.1,924.4 C459.3,923.2 460.8,922.1 463.1,921.9 C465.5,921.7 468.7,922.0 471.2,923.4 C473.7,924.8 475.7,927.0 478.2,930.4 C480.7,933.8 483.8,938.6 486.3,943.5 C488.8,948.4 491.3,955.4 493.3,959.6 C495.3,963.8 496.5,966.9 498.4,968.7 C500.2,970.6 502.0,970.3 504.4,970.7 C506.8,971.1 509.1,971.6 512.5,971.3 C515.9,971.0 520.1,969.3 524.5,968.7 C528.9,968.1 532.8,967.8 538.7,967.7 C544.6,967.6 554.1,968.8 559.8,968.3 C565.5,967.8 568.4,966.7 572.9,964.7 C577.4,962.8 582.6,959.2 587.0,956.6 C591.4,954.0 595.1,951.3 599.1,949.1 C603.1,946.9 606.2,945.6 611.2,943.5 C616.2,941.4 623.9,939.0 629.3,936.5 C634.7,934.0 638.4,931.0 643.4,928.4 C648.4,925.8 654.8,922.5 659.5,920.9 C664.2,919.3 666.9,919.3 671.6,918.9 C676.3,918.5 682.3,918.1 687.7,918.3 C693.1,918.5 698.5,919.1 703.9,920.3 C709.3,921.5 714.6,923.8 720.0,925.4 C725.4,927.0 731.1,928.9 736.1,929.8 C741.1,930.7 745.7,931.1 750.0,931.0 C754.3,930.9 757.7,929.5 762.1,929.0 C766.5,928.5 771.5,927.7 776.2,927.8 C780.9,927.9 784.9,928.3 790.3,929.4 C795.7,930.5 802.3,932.9 808.4,934.4 C814.5,935.9 820.5,937.1 826.6,938.5 C832.7,939.9 838.7,940.8 844.7,942.5 C850.7,944.2 857.1,946.1 862.8,948.5 C868.5,950.9 873.5,954.1 878.9,956.6 C884.3,959.1 890.4,961.9 895.1,963.7 C899.8,965.6 902.5,967.5 907.2,967.7 C911.9,967.9 918.6,966.0 923.3,964.7 C928.0,963.4 931.0,961.0 935.4,960.0 C939.8,959.0 944.1,958.6 949.5,958.6 C954.9,958.6 961.9,960.0 967.6,960.0 C973.3,960.0 977.7,959.0 983.7,958.6 C989.8,958.2 995.8,957.8 1003.9,957.6 C1012.0,957.4 1024.4,957.3 1032.1,957.6 C1039.8,957.9 1044.7,958.3 1050.0,959.2 C1055.3,960.1 1059.7,962.3 1064.1,963.2 C1068.5,964.1 1072.2,964.0 1076.2,964.7 C1080.2,965.4 1084.3,966.9 1088.3,967.3 C1092.3,967.7 1096.4,967.1 1100.4,967.3 C1104.4,967.5 1107.5,968.4 1112.5,968.7 C1117.5,969.0 1126.6,969.2 1130.6,969.3 C1134.6,969.4 1135.6,969.3 1136.6,969.3" fill="none" stroke="#000" stroke-width="7.0" stroke-linecap="round" stroke-linejoin="round"/><path d="M181.3,1091.2 C181.4,1092.3 181.5,1096.0 182.1,1097.7 C182.7,1099.4 183.8,1101.0 184.9,1101.3 C186.0,1101.6 187.3,1100.1 188.5,1099.3 C189.7,1098.5 190.8,1096.6 191.8,1096.5 C192.8,1096.4 193.8,1098.8 194.6,1098.5 C195.4,1098.2 195.9,1096.5 196.6,1094.5 C197.3,1092.5 197.9,1088.6 198.6,1086.4 C199.3,1084.2 200.6,1082.1 201.0,1081.2" fill="none" stroke="#000" stroke-width="7.0" stroke-linecap="round" stroke-linejoin="round"/><path d="M246.2,1088.4 C246.8,1087.8 248.8,1087.0 249.8,1084.8 C250.8,1082.6 251.5,1078.0 252.2,1075.1 C252.9,1072.1 253.6,1068.8 254.2,1067.1 C254.8,1065.4 255.1,1064.4 255.8,1064.7 C256.6,1065.0 257.8,1067.0 258.7,1068.7 C259.6,1070.4 260.6,1073.5 261.5,1075.1 C262.4,1076.7 263.4,1078.3 264.3,1078.4 C265.2,1078.5 266.0,1077.9 266.7,1075.9 C267.4,1073.9 267.8,1069.5 268.3,1066.3 C268.8,1063.1 269.3,1059.1 269.9,1056.6 C270.5,1054.0 271.2,1051.7 271.9,1051.0 C272.6,1050.3 273.6,1051.9 274.0,1052.6 C274.4,1053.3 274.0,1054.6 274.0,1055.0" fill="none" stroke="#000" stroke-width="7.0" stroke-linecap="round" stroke-linejoin="round"/><path d="M345.1,1093.4 C345.4,1092.7 346.4,1091.5 347.1,1089.0 C347.8,1086.5 348.4,1081.6 349.1,1078.5 C349.8,1075.4 350.5,1072.0 351.1,1070.4 C351.7,1068.9 351.9,1068.7 352.7,1069.2 C353.4,1069.8 354.7,1073.4 355.6,1073.7 C356.6,1074.0 357.5,1071.5 358.4,1071.2 C359.3,1070.9 360.0,1070.6 360.8,1071.7 C361.6,1072.8 362.3,1075.8 363.2,1077.7 C364.1,1079.6 365.2,1081.9 366.0,1083.3 C366.8,1084.7 367.7,1085.7 368.0,1086.2" fill="none" stroke="#000" stroke-width="7.0" stroke-linecap="round" stroke-linejoin="round"/><path d="M401.9,1051.1 C402.3,1050.7 403.6,1048.3 404.3,1048.7 C405.0,1049.1 405.2,1051.9 405.9,1053.5 C406.6,1055.1 407.5,1058.1 408.3,1058.4 C409.1,1058.7 410.1,1057.4 410.8,1055.1 C411.6,1052.8 412.0,1047.0 412.8,1044.7 C413.6,1042.4 414.7,1041.3 415.6,1041.0 C416.5,1040.7 417.2,1041.8 418.0,1043.0 C418.8,1044.2 419.4,1047.0 420.4,1047.9 C421.3,1048.9 422.8,1047.2 423.7,1048.7 C424.6,1050.2 425.4,1053.9 426.1,1056.7 C426.8,1059.5 427.2,1063.6 427.7,1065.6 C428.2,1067.6 428.7,1068.7 429.3,1068.8 C429.9,1068.9 430.5,1068.1 431.3,1066.4 C432.1,1064.7 433.1,1061.2 434.1,1058.4 C435.1,1055.6 436.3,1051.7 437.4,1049.5 C438.5,1047.3 439.5,1046.0 440.6,1045.5 C441.7,1045.0 443.2,1047.0 444.2,1046.3 C445.2,1045.6 446.0,1043.6 446.6,1041.4 C447.2,1039.2 447.2,1035.8 447.8,1033.4 C448.4,1031.1 449.2,1027.8 450.2,1027.3 C451.1,1026.8 452.7,1028.7 453.5,1030.1 C454.3,1031.5 454.1,1034.6 455.0,1035.8 C455.9,1037.0 457.8,1034.8 459.1,1037.2 C460.5,1039.6 461.9,1044.8 463.1,1050.3 C464.3,1055.8 464.9,1064.5 466.1,1070.4 C467.3,1076.3 468.9,1084.5 470.1,1085.5 C471.3,1086.5 472.2,1080.3 473.2,1076.5 C474.2,1072.7 475.0,1065.5 476.2,1062.4 C477.4,1059.3 478.2,1058.4 480.2,1057.9 C482.2,1057.4 486.3,1060.0 488.3,1059.4 C490.3,1058.8 491.0,1056.3 492.3,1054.3 C493.6,1052.3 495.0,1047.3 496.3,1047.3 C497.6,1047.3 499.0,1052.5 500.4,1054.3 C501.8,1056.1 502.7,1057.7 504.4,1057.9 C506.1,1058.1 508.4,1055.9 510.4,1055.3 C512.4,1054.7 514.8,1055.8 516.5,1054.3 C518.2,1052.8 519.3,1050.7 520.5,1046.3 C521.7,1041.9 522.5,1035.2 523.5,1028.1 C524.5,1021.0 525.4,1010.3 526.6,1003.9 C527.8,997.5 529.3,990.7 530.6,989.4 C531.9,988.1 533.1,991.5 534.6,995.9 C536.1,1000.3 538.0,1010.0 539.7,1016.0 C541.4,1022.0 542.9,1028.0 544.7,1032.2 C546.5,1036.4 549.0,1041.2 550.7,1041.2 C552.4,1041.2 553.8,1038.1 554.8,1032.2 C555.8,1026.3 556.0,1013.1 556.8,1006.0 C557.6,998.9 558.8,991.1 559.8,989.4 C560.8,987.7 561.8,991.5 562.8,995.9 C563.8,1000.3 564.4,1011.1 565.8,1016.0 C567.1,1020.9 569.2,1022.8 570.9,1025.1 C572.6,1027.4 574.0,1029.7 575.9,1029.7 C577.8,1029.7 580.0,1026.1 582.0,1025.1 C584.0,1024.1 586.3,1025.9 588.0,1023.7 C589.7,1021.5 590.8,1015.1 592.0,1012.0 C593.2,1008.9 594.3,1004.7 595.5,1005.0 C596.7,1005.3 597.7,1009.5 599.1,1014.0 C600.5,1018.5 602.2,1026.2 604.1,1032.2 C606.0,1038.2 608.5,1045.6 610.2,1050.3 C611.9,1055.0 612.9,1058.1 614.2,1060.4 C615.5,1062.7 616.9,1064.2 618.2,1064.0 C619.6,1063.8 620.9,1061.4 622.3,1059.4 C623.6,1057.5 625.1,1052.5 626.3,1052.3 C627.5,1052.1 628.3,1056.8 629.3,1058.3 C630.3,1059.8 630.9,1062.1 632.3,1061.4 C633.6,1060.7 635.7,1056.2 637.4,1054.3 C639.1,1052.4 640.9,1051.0 642.4,1050.3 C643.9,1049.6 645.2,1051.5 646.4,1050.3 C647.6,1049.1 648.0,1044.4 649.5,1043.2 C651.0,1042.0 654.0,1045.0 655.5,1043.2 C657.0,1041.4 657.7,1036.9 658.5,1032.2 C659.3,1027.5 659.3,1018.0 660.5,1015.0 C661.7,1012.0 664.2,1015.3 665.6,1014.0 C667.0,1012.7 667.6,1008.5 668.6,1007.0 C669.6,1005.5 670.6,1004.5 671.6,1005.0 C672.6,1005.5 673.6,1007.1 674.6,1010.0 C675.6,1012.9 676.7,1020.8 677.7,1022.1 C678.7,1023.4 679.7,1021.0 680.7,1018.0 C681.7,1015.0 682.7,1006.1 683.7,1003.9 C684.7,1001.7 685.7,1002.6 686.7,1005.0 C687.7,1007.4 688.4,1015.6 689.8,1018.0 C691.1,1020.4 693.0,1017.8 694.8,1019.1 C696.6,1020.4 699.1,1026.2 700.8,1025.7 C702.5,1025.2 703.5,1019.6 704.9,1016.0 C706.2,1012.4 707.7,1005.6 708.9,1003.9 C710.1,1002.2 710.5,1002.3 711.9,1006.0 C713.2,1009.7 715.3,1018.7 717.0,1026.1 C718.7,1033.5 720.5,1041.6 722.0,1050.3 C723.5,1059.0 724.8,1071.2 726.0,1078.5 C727.2,1085.8 728.0,1092.5 729.0,1094.2 C730.0,1095.9 731.1,1093.2 732.1,1088.6 C733.1,1084.0 734.1,1075.5 735.1,1066.4 C736.1,1057.3 737.1,1042.9 738.1,1034.2 C739.1,1025.5 740.2,1018.0 741.1,1014.0 C742.0,1010.0 742.9,1008.6 743.8,1010.0 C744.6,1011.4 745.2,1015.7 746.2,1022.1 C747.2,1028.5 748.2,1043.6 750.0,1048.3 C751.8,1053.0 755.2,1047.9 757.1,1050.3 C759.0,1052.7 759.8,1059.2 761.1,1062.4 C762.4,1065.6 763.9,1066.6 765.1,1069.4 C766.3,1072.2 767.1,1078.3 768.1,1079.5 C769.1,1080.7 770.2,1079.8 771.2,1076.5 C772.2,1073.2 772.9,1061.4 774.2,1059.4 C775.5,1057.4 777.2,1063.7 779.2,1064.4 C781.2,1065.1 783.9,1064.1 786.3,1063.4 C788.6,1062.7 791.5,1065.3 793.3,1060.4 C795.1,1055.5 796.1,1041.6 797.3,1034.2 C798.5,1026.8 799.4,1020.2 800.4,1016.0 C801.4,1011.8 802.2,1008.3 803.4,1009.0 C804.6,1009.7 805.9,1015.6 807.4,1020.1 C808.9,1024.6 811.0,1032.2 812.5,1036.2 C814.0,1040.2 815.3,1044.2 816.5,1044.2 C817.7,1044.2 818.2,1040.9 819.5,1036.2 C820.8,1031.5 822.8,1020.9 824.5,1016.0 C826.2,1011.1 827.6,1007.7 829.6,1007.0 C831.6,1006.3 834.6,1011.5 836.6,1012.0 C838.6,1012.5 840.0,1010.0 841.7,1010.0 C843.4,1010.0 844.5,1013.2 846.7,1012.0 C848.9,1010.8 852.6,1005.9 854.8,1002.9 C857.0,999.9 858.1,994.1 859.8,993.9 C861.5,993.7 863.1,999.5 864.8,1001.9 C866.5,1004.2 868.2,1009.0 869.9,1008.0 C871.6,1007.0 872.7,998.2 874.9,995.9 C877.1,993.5 880.5,993.9 883.0,993.9 C885.5,993.9 887.6,997.6 890.0,995.9 C892.4,994.2 894.8,987.3 897.1,983.8 C899.5,980.3 902.1,979.4 904.1,974.7 C906.1,970.0 907.5,961.8 909.2,955.6 C910.9,949.4 912.2,942.6 914.2,937.5 C916.2,932.4 919.1,926.7 921.3,925.0 C923.5,923.3 925.5,929.4 927.3,927.4 C929.1,925.4 930.8,914.5 932.3,913.3 C933.8,912.1 934.9,919.4 936.4,920.3 C937.9,921.2 939.6,917.7 941.4,918.9 C943.2,920.1 945.5,926.6 947.4,927.4 C949.2,928.1 950.8,925.0 952.5,923.4 C954.2,921.8 956.0,917.4 957.5,917.7 C959.0,918.0 960.4,920.8 961.6,925.4 C962.8,930.0 963.6,937.8 964.6,945.5 C965.6,953.2 966.4,965.5 967.6,971.7 C968.8,977.9 970.1,980.3 971.6,982.8 C973.1,985.3 975.0,987.1 976.7,986.8 C978.4,986.5 979.9,982.1 981.7,980.8 C983.5,979.5 986.0,982.3 987.7,978.8 C989.4,975.3 990.4,967.8 991.8,959.6 C993.1,951.4 994.5,936.8 995.8,929.4 C997.1,922.0 998.6,916.0 999.8,915.3 C1001.0,914.6 1001.7,918.7 1002.9,925.4 C1004.1,932.1 1005.4,943.9 1006.9,955.6 C1008.4,967.4 1010.4,984.1 1011.9,995.9 C1013.4,1007.6 1014.6,1019.5 1016.0,1026.1 C1017.4,1032.6 1018.5,1034.5 1020.0,1035.2 C1021.5,1035.9 1023.0,1031.3 1025.0,1030.1 C1027.0,1028.9 1029.9,1031.1 1032.1,1028.1 C1034.3,1025.1 1036.4,1017.0 1038.1,1012.0 C1039.8,1007.0 1040.9,1000.9 1042.1,997.9 C1043.3,994.9 1044.2,992.9 1045.2,993.9 C1046.2,994.9 1047.2,1000.9 1048.2,1003.9 C1049.2,1006.9 1050.2,1008.6 1051.0,1012.0 C1051.8,1015.4 1052.2,1019.4 1053.0,1024.1 C1053.8,1028.8 1055.0,1035.2 1056.0,1040.2 C1057.0,1045.2 1057.9,1050.1 1059.1,1054.3 C1060.3,1058.5 1061.6,1062.7 1063.1,1065.4 C1064.6,1068.1 1066.2,1070.5 1068.1,1070.4 C1069.9,1070.3 1071.5,1065.7 1074.2,1064.8 C1076.9,1063.9 1081.8,1063.5 1084.3,1064.8 C1086.8,1066.1 1087.8,1068.8 1089.3,1072.4 C1090.8,1076.0 1092.1,1083.2 1093.3,1086.6 C1094.5,1090.0 1095.3,1093.6 1096.3,1092.6 C1097.3,1091.6 1098.6,1086.5 1099.4,1080.5 C1100.2,1074.5 1100.7,1061.0 1101.4,1056.3 C1102.1,1051.6 1102.6,1051.4 1103.4,1052.3 C1104.2,1053.2 1105.2,1061.4 1106.4,1061.4 C1107.6,1061.4 1109.2,1056.8 1110.4,1052.3 C1111.6,1047.8 1112.5,1038.6 1113.5,1034.2 C1114.5,1029.8 1115.3,1026.1 1116.5,1026.1 C1117.7,1026.1 1119.2,1033.9 1120.5,1034.2 C1121.8,1034.5 1123.3,1032.5 1124.5,1028.1 C1125.7,1023.7 1126.6,1015.7 1127.6,1008.0 C1128.6,1000.3 1129.6,989.5 1130.6,981.8 C1131.6,974.1 1132.7,965.6 1133.6,961.6 C1134.5,957.6 1135.2,956.2 1136.2,957.6 C1137.2,959.0 1138.6,965.0 1139.7,969.7 C1140.8,974.4 1141.7,980.8 1142.7,985.8 C1143.7,990.8 1144.4,996.5 1145.7,999.9 C1147.0,1003.3 1149.2,1003.3 1150.7,1006.0 C1152.2,1008.7 1153.5,1010.0 1154.8,1016.0 C1156.1,1022.0 1157.6,1034.5 1158.8,1042.2 C1160.0,1049.9 1160.9,1056.4 1161.8,1062.4 C1162.7,1068.5 1164.0,1075.8 1164.4,1078.5" fill="none" stroke="#000" stroke-width="7.0" stroke-linecap="round" stroke-linejoin="round"/><path d="M1176.9,1079.5 C1177.8,1079.5 1180.5,1080.5 1182.0,1079.5 C1183.5,1078.5 1184.7,1075.8 1186.0,1073.5 C1187.3,1071.2 1188.5,1066.1 1190.0,1065.4 C1191.5,1064.7 1193.1,1069.4 1195.1,1069.4 C1197.1,1069.4 1200.1,1067.9 1202.1,1065.4 C1204.1,1062.9 1205.7,1059.5 1207.2,1054.3 C1208.7,1049.1 1210.0,1042.2 1211.2,1034.2 C1212.4,1026.2 1213.3,1013.2 1214.2,1006.0 C1215.1,998.8 1216.0,993.8 1216.8,990.8 C1217.6,987.8 1218.3,986.3 1219.2,987.8 C1220.1,989.3 1221.3,994.5 1222.3,999.9 C1223.3,1005.3 1224.3,1014.4 1225.3,1020.1 C1226.3,1025.8 1227.3,1031.0 1228.3,1034.2 C1229.3,1037.4 1230.1,1039.2 1231.3,1039.2 C1232.5,1039.2 1234.2,1037.4 1235.4,1034.2 C1236.6,1031.0 1237.4,1023.6 1238.4,1020.1 C1239.4,1016.6 1240.4,1013.0 1241.4,1013.0 C1242.4,1013.0 1243.2,1017.8 1244.4,1020.1 C1245.6,1022.5 1246.8,1025.6 1248.5,1027.1 C1250.2,1028.6 1252.5,1027.2 1254.5,1029.1 C1256.5,1030.9 1258.5,1034.0 1260.5,1038.2 C1262.5,1042.4 1264.8,1049.6 1266.6,1054.3 C1268.4,1059.0 1270.3,1063.9 1271.6,1066.4 C1272.9,1068.9 1273.6,1069.7 1274.6,1069.4 C1275.6,1069.1 1276.7,1067.2 1277.7,1064.4 C1278.7,1061.6 1279.5,1054.7 1280.7,1052.3 C1281.9,1049.9 1283.4,1050.1 1284.7,1050.3 C1286.0,1050.5 1287.6,1054.6 1288.8,1053.3 C1290.0,1052.0 1290.8,1045.0 1291.8,1042.2 C1292.8,1039.4 1293.6,1036.2 1294.8,1036.2 C1296.0,1036.2 1297.4,1037.8 1298.8,1042.2 C1300.2,1046.6 1301.7,1056.4 1302.9,1062.4 C1304.1,1068.5 1305.1,1075.3 1305.9,1078.5 C1306.7,1081.7 1307.1,1082.2 1307.9,1081.5 C1308.7,1080.8 1310.1,1079.4 1310.9,1074.5 C1311.7,1069.6 1312.1,1057.8 1312.9,1052.3 C1313.8,1046.8 1314.9,1043.5 1316.0,1041.2 C1317.1,1038.9 1318.5,1038.4 1319.6,1038.6 C1320.7,1038.8 1321.9,1041.6 1322.4,1042.2" fill="none" stroke="#000" stroke-width="7.0" stroke-linecap="round" stroke-linejoin="round"/></g>
<g><text x="196.3" y="1158.0" font-size="35" letter-spacing="0.3" fill="#262626" text-anchor="middle">Mar</text><text x="409.2" y="1158.0" font-size="35" letter-spacing="0.3" fill="#262626" text-anchor="middle">Apr</text><text x="614.4" y="1158.0" font-size="35" letter-spacing="0.3" fill="#262626" text-anchor="middle">May</text><text x="826.4" y="1158.0" font-size="35" letter-spacing="0.3" fill="#262626" text-anchor="middle">Jun</text><text x="1032.6" y="1158.0" font-size="35" letter-spacing="0.3" fill="#262626" text-anchor="middle">Jul</text><text x="1244.2" y="1158.0" font-size="35" letter-spacing="0.3" fill="#262626" text-anchor="middle">Aug</text><text x="1456.7" y="1158.0" font-size="35" letter-spacing="0.3" fill="#262626" text-anchor="middle">Sep</text><text x="90.6" y="1126.2" font-size="35" letter-spacing="0.3" fill="#262626" text-anchor="end">0</text><text x="90.6" y="1023.4" font-size="35" letter-spacing="0.3" fill="#262626" text-anchor="end">20</text><text x="90.6" y="920.4" font-size="35" letter-spacing="0.3" fill="#262626" text-anchor="end">40</text><text transform="translate(35.6,971.0) rotate(-90)" font-size="39" fill="#262626" text-anchor="middle">Vmax [cm/s]</text></g>
<text x="778" y="31.3" font-size="38.9" font-weight="bold" fill="#000" text-anchor="middle">3469260</text>
<text x="778" y="1206.3" font-size="39" letter-spacing="0.15" fill="#262626" text-anchor="middle">Time [months of 2017]</text>
</svg></body></html>
